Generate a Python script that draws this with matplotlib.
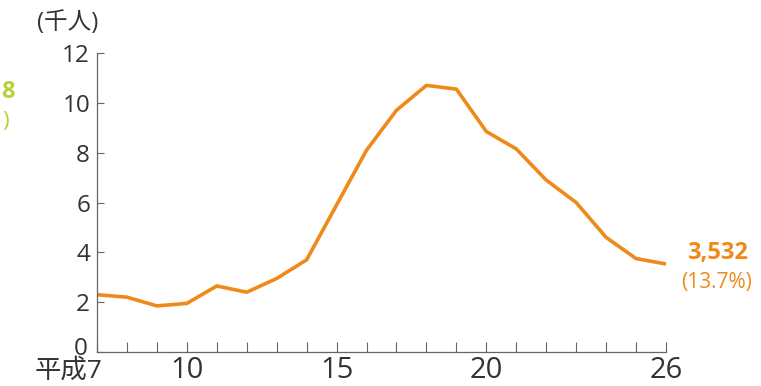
import matplotlib.pyplot as plt

plt.rcParams['font.family'] = ['Open Sans', 'Noto Sans CJK JP', 'DejaVu Sans']

# 年度(平成)と人数(千人)
years = list(range(7, 27))
people = [2.3, 2.2, 1.85, 1.95, 2.65, 2.4, 2.95, 3.7, 5.9, 8.1,
          9.7, 10.7, 10.55, 8.85, 8.15, 6.9, 6.0, 4.6, 3.75, 3.532]
yticks = [0, 2, 4, 6, 8, 10, 12]
xticks = [7, 10, 15, 20, 26]
xticklabels = ['平成7', '10', '15', '20', '26']
last_label = '3,532'
last_share = '(13.7%)'

line_color = '#ef8a1a'
text_color = '#333333'
axis_color = '#666666'

fig = plt.figure(figsize=(7.61, 3.86), dpi=100)
ax = fig.add_axes([97 / 761, 34 / 386, 569 / 761, 299 / 386])

ax.plot(years, people, color=line_color, linewidth=2.6,
        solid_joinstyle='round', solid_capstyle='butt', clip_on=False)

ax.set_xlim(7, 26)
ax.set_ylim(0, 12)
ax.set_yticks(yticks)
# 原点の「0」と「平成7」は重ならないように別に置く
ax.set_yticklabels([''] + [str(v) for v in yticks[1:]], fontsize=17.5, color=text_color)
ax.set_xticks(xticks)
ax.set_xticklabels([''] + xticklabels[1:], fontsize=21, color=text_color)
ax.set_xticks(years, minor=True)

ax.annotate(str(yticks[0]), xy=(xticks[0], yticks[0]), xytext=(-9, -3),
            textcoords='offset pixels', ha='right', va='baseline',
            fontsize=17.5, color=text_color, annotation_clip=False)
ax.annotate(xticklabels[0], xy=(xticks[0], yticks[0]), xytext=(6, -7),
            textcoords='offset pixels', ha='right', va='top',
            fontsize=19, color=text_color, annotation_clip=False)

for side in ('top', 'right'):
    ax.spines[side].set_visible(False)
for side in ('left', 'bottom'):
    ax.spines[side].set_color(axis_color)
    ax.spines[side].set_linewidth(0.9)

ax.tick_params(axis='y', direction='in', length=5, width=0.8,
               color=axis_color, pad=5)
ax.tick_params(axis='x', which='both', direction='in', length=7, width=0.8,
               color=axis_color, pad=3)

# 単位
fig.text(68 / 761, 1 - 23 / 386, '(千人)', fontsize=17, color=text_color,
         ha='center', va='center')

# 最終年の値
ax.annotate(last_label, xy=(years[-1], people[-1]), xytext=(15, 8),
            textcoords='offset points', ha='left', va='center',
            fontsize=17, fontweight='bold', color=line_color,
            annotation_clip=False)
ax.annotate(last_share, xy=(years[-1], people[-1]), xytext=(11, -13),
            textcoords='offset points', ha='left', va='center',
            fontsize=15, color=line_color, annotation_clip=False)

# 隣のグラフの端
fig.text(15 / 761, 1 - 92 / 386, '8', fontsize=17, fontweight='bold',
         color='#b5d334', ha='right', va='center')
fig.text(9 / 761, 1 - 122 / 386, ')', fontsize=16,
         color='#b5d334', ha='right', va='center')

fig.savefig('out.png', dpi=100, facecolor='white')
